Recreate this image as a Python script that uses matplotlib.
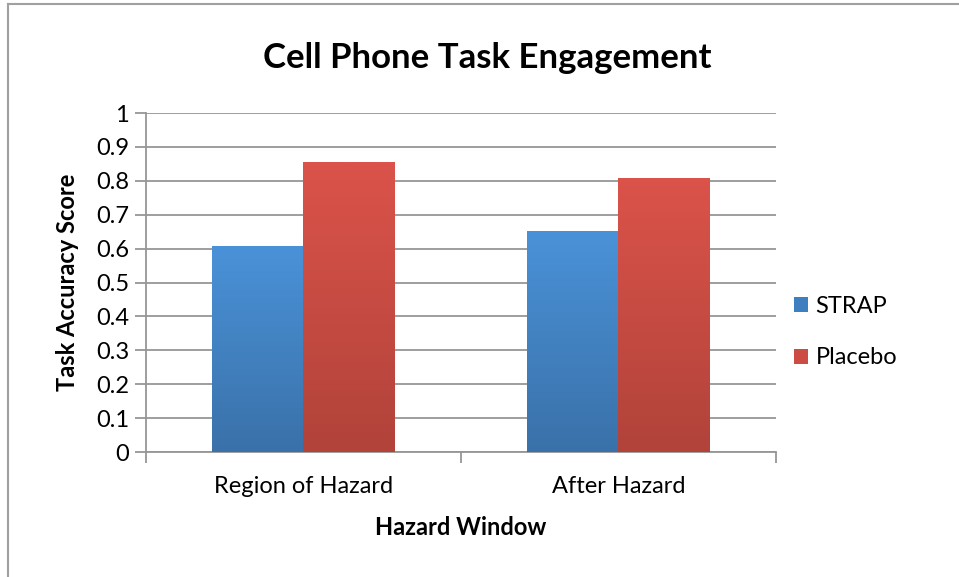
import numpy as np
import matplotlib.pyplot as plt
from matplotlib.colors import LinearSegmentedColormap
from matplotlib.lines import Line2D
from matplotlib.patches import Patch

plt.rcParams['font.family'] = ['Lato', 'DejaVu Sans']

categories = ['Region of Hazard', 'After Hazard']
series = ['STRAP', 'Placebo']
strap = [0.605, 0.652]
placebo = [0.853, 0.808]
yticks = [0, 0.1, 0.2, 0.3, 0.4, 0.5, 0.6, 0.7, 0.8, 0.9, 1]
ytick_labels = ['0', '0.1', '0.2', '0.3', '0.4', '0.5', '0.6', '0.7', '0.8', '0.9', '1']

# top colour, bottom colour
grad = {
    'STRAP': ('#4a92d8', '#3a71a9'),
    'Placebo': ('#db534a', '#b1433a'),
}
legend_col = {'STRAP': '#3f7fc0', 'Placebo': '#cc4b43'}

fig = plt.figure(figsize=(9.59, 5.77), dpi=100)
ax = fig.add_axes([0.152, 0.2166, 0.657, 0.5874])

x = np.arange(len(categories))
w = 0.289
gray = '#969696'

for i, (name, vals) in enumerate(zip(series, [strap, placebo])):
    bars = ax.bar(x + (i - 0.5) * w, vals, w, color='none', zorder=3)
    cmap = LinearSegmentedColormap.from_list(name, [grad[name][1], grad[name][0]])
    for b in bars:
        x0, y0 = b.get_x(), b.get_y()
        g = np.linspace(0, 1, 256).reshape(-1, 1)
        ax.imshow(g, cmap=cmap, origin='lower', aspect='auto', zorder=3,
                  extent=[x0, x0 + b.get_width(), y0, y0 + b.get_height()])

ax.set_xlim(-0.5, len(categories) - 0.5)
ax.set_ylim(0, 1)
ax.set_yticks(yticks)
ax.set_yticklabels(ytick_labels, fontsize=17)
ax.yaxis.grid(True, color=gray, linewidth=1.3, zorder=0)
ax.set_axisbelow(True)

ax.set_xticks(x)
ax.set_xticklabels(categories, fontsize=17)
ax.tick_params(axis='x', length=0, pad=17)
ax.set_xticks(np.arange(-0.5, len(categories)), minor=True)
ax.tick_params(axis='x', which='minor', length=8, color=gray, width=1.3)
ax.tick_params(axis='y', length=8, color=gray, width=1.3, pad=4)

for s in ['top', 'right']:
    ax.spines[s].set_visible(False)
for s in ['left', 'bottom']:
    ax.spines[s].set_color(gray)
    ax.spines[s].set_linewidth(1.3)

ax.set_ylabel('Task Accuracy Score', fontsize=17, fontweight='bold', labelpad=12)
ax.set_xlabel('Hazard Window', fontsize=17, fontweight='bold', labelpad=14)
fig.suptitle('Cell Phone Task Engagement', fontsize=25, fontweight='bold', x=0.508, y=0.928)

handles = [Patch(facecolor=legend_col[s], label=s) for s in series]
fig.legend(handles=handles, loc='center left', bbox_to_anchor=(0.806, 0.4246),
           frameon=False, fontsize=17, handlelength=0.6, handleheight=0.6,
           handletextpad=0.3, labelspacing=1.3)

# outer chart border (top and left edges visible)
fig.add_artist(Line2D([0.008, 1.0], [0.993, 0.993], transform=fig.transFigure, color='#a0a0a0', lw=1.5))
fig.add_artist(Line2D([0.008, 0.008], [0.0, 0.993], transform=fig.transFigure, color='#a0a0a0', lw=1.5))

fig.savefig('out.png', dpi=100)
